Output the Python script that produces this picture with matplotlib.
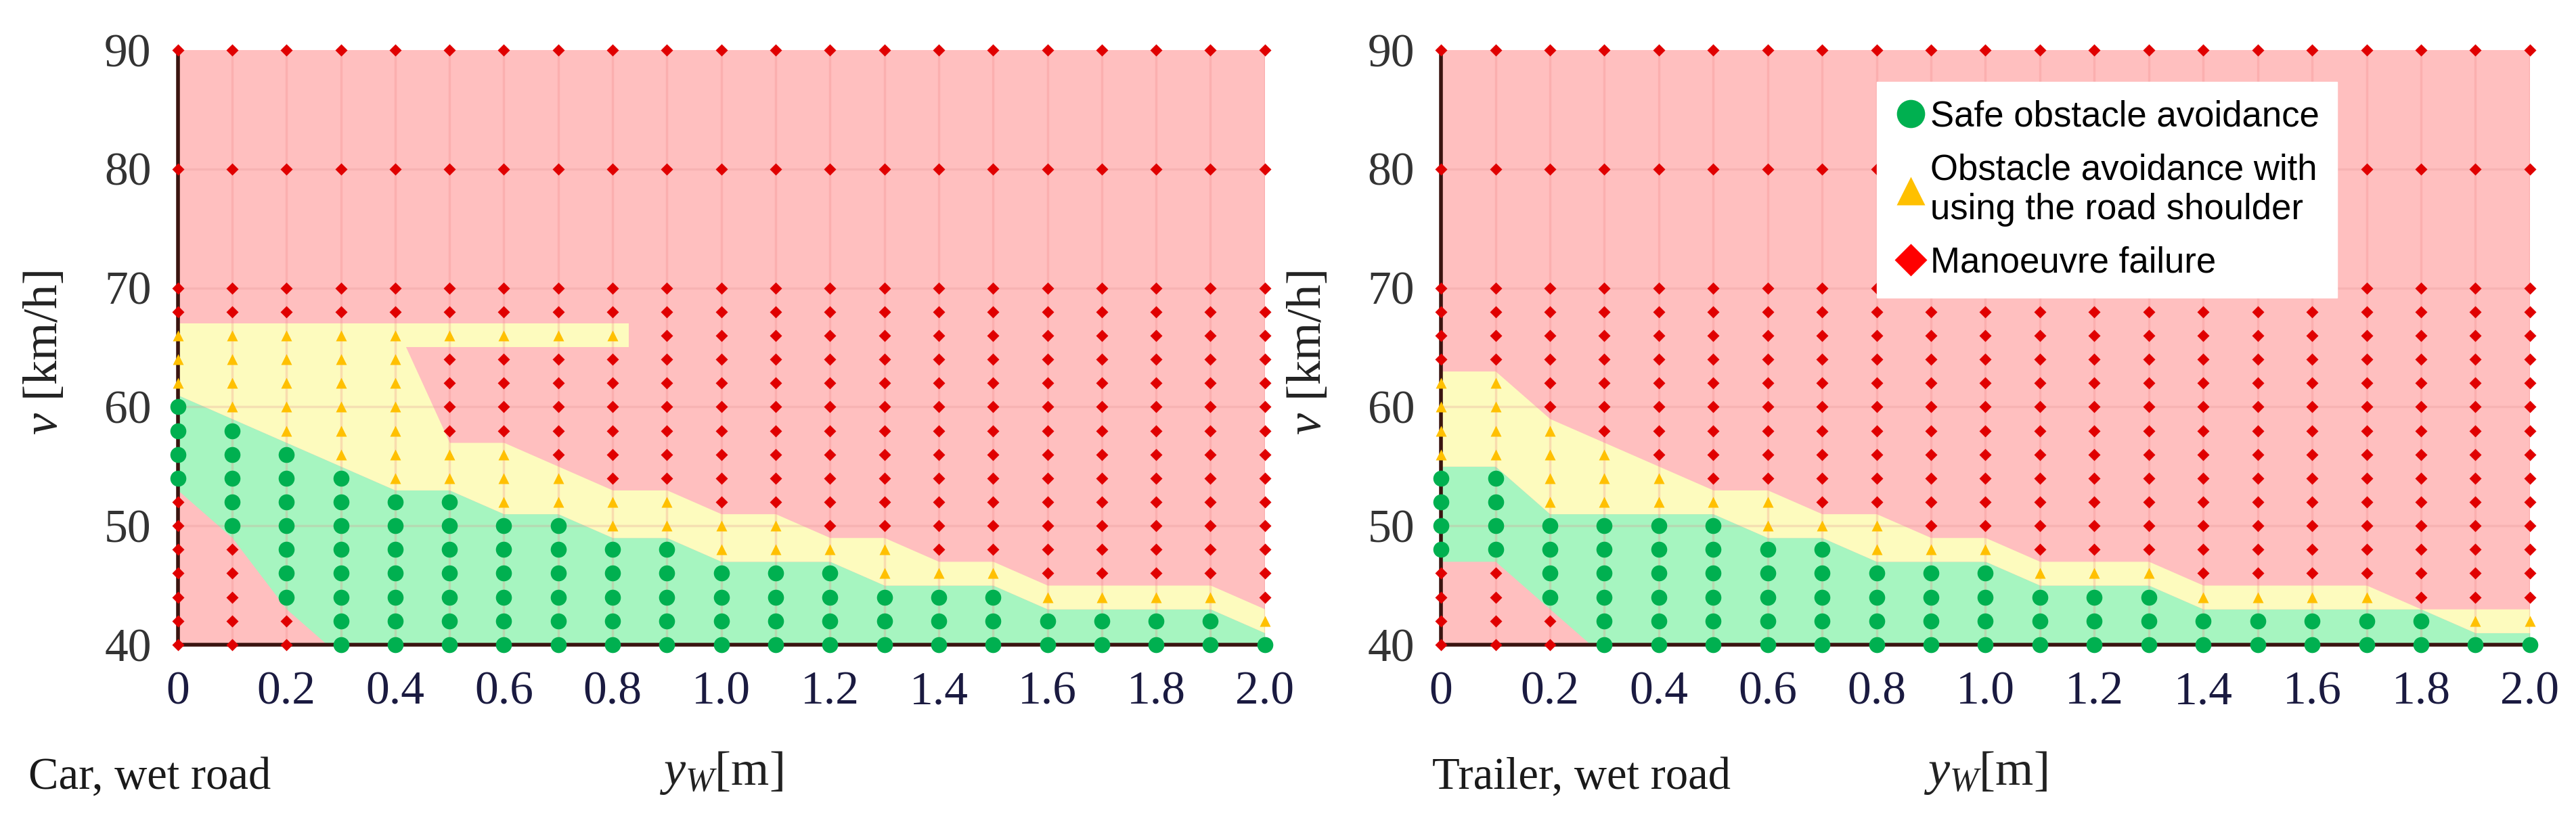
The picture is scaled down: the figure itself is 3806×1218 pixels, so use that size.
import matplotlib
matplotlib.use("Agg")
import matplotlib.pyplot as plt
import numpy as np
from matplotlib.lines import Line2D

plt.rcParams["mathtext.fontset"] = "custom"
plt.rcParams["mathtext.it"] = "Liberation Serif:italic"
plt.rcParams["mathtext.rm"] = "Liberation Serif"

# lateral offset columns [m] and speed rows [km/h]
Y_W = [round(0.1 * i, 1) for i in range(21)]
SPEEDS = list(range(40, 71, 2)) + [80, 90]

# per column: highest speed of the low-speed failure zone (None = none),
# highest safe speed, highest speed with road shoulder
CAR_RED_LOW = [52, 48, 42] + [None] * 18
CAR_GREEN_TOP = [60, 58, 56, 54, 52, 52, 50, 50, 48, 48, 46, 46, 46, 44, 44, 44, 42, 42, 42, 42, 40]
CAR_YELLOW_TOP = [66, 66, 66, 66, 66, 56, 56, 54, 52, 52, 50, 50, 48, 48, 46, 46, 44, 44, 44, 44, 42]
# car also has a yellow strip at 66 km/h up to y_W = 0.8 m
CAR_BAND_SPEED = 66
CAR_BAND_END = 0.8

TRL_RED_LOW = [46, 46, 42] + [None] * 18
TRL_GREEN_TOP = [54, 54, 50, 50, 50, 50, 48, 48, 46, 46, 46, 44, 44, 44, 42, 42, 42, 42, 42, 40, 40]
TRL_YELLOW_TOP = [62, 62, 58, 56, 54, 52, 52, 50, 50, 48, 48, 46, 46, 46, 44, 44, 44, 44, 42, 42, 42]

LABELS = ["Safe obstacle avoidance",
          "Obstacle avoidance with\nusing the road shoulder",
          "Manoeuvre failure"]

BG_RED, BG_YEL, BG_GRN = "#FFBFBF", "#FDFBBE", "#A6F5C0"
MK_GRN, MK_YEL, MK_RED = "#00B050", "#FFC000", "#E00000"
SERIF = ["Liberation Serif", "DejaVu Serif"]
NARROW = ["Liberation Sans Narrow", "Liberation Sans", "DejaVu Sans"]


def classify(i, v, red_low, g_top, y_top, band):
    if red_low[i] is not None and v <= red_low[i]:
        return "r"
    if v <= g_top[i]:
        return "g"
    if v <= y_top[i]:
        return "y"
    if band is not None and v == band[0] and Y_W[i] <= band[1]:
        return "y"
    return "r"


def draw_panel(ax, red_low, g_top, y_top, band=None):
    x = np.array(Y_W)
    ax.set_xlim(0, 2.0)
    ax.set_ylim(40, 90)
    ax.axhspan(40, 90, color=BG_RED, zorder=0)
    lo = np.array([39 if r is None else r + 1 for r in red_low], float)
    gt = np.array(g_top, float) + 1
    yt = np.array(y_top, float) + 1
    ax.fill_between(x, lo, gt, color=BG_GRN, lw=0, zorder=1)
    ax.fill_between(x, gt, yt, color=BG_YEL, lw=0, zorder=1)
    if band is not None:
        ax.fill_between([0, band[1] + 0.03], band[0] - 1, band[0] + 1,
                        color=BG_YEL, lw=0, zorder=1)

    for xv in Y_W:
        ax.axvline(xv, color="#F08080", alpha=0.25, lw=2.5, zorder=2)
    for yv in [50, 60, 70, 80]:
        ax.axhline(yv, color="#E09090", alpha=0.25, lw=2.5, zorder=2)

    pts = {"g": [], "y": [], "r": []}
    for i, xv in enumerate(Y_W):
        for v in SPEEDS:
            pts[classify(i, v, red_low, g_top, y_top, band)].append((xv, v))
    style = {"g": (MK_GRN, "o", 17), "y": (MK_YEL, "^", 12), "r": (MK_RED, "D", 9)}
    for k in ["g", "y", "r"]:
        if pts[k]:
            px, py = zip(*pts[k])
            c, m, s = style[k]
            ax.plot(px, py, ls="none", marker=m, ms=s, color=c, mec="none",
                    clip_on=False, zorder=4)

    for s in ["top", "right"]:
        ax.spines[s].set_visible(False)
    for s in ["left", "bottom"]:
        ax.spines[s].set_color("#3A1410")
        ax.spines[s].set_linewidth(4)
        ax.spines[s].set_zorder(3)
    ax.set_xticks([0, 0.2, 0.4, 0.6, 0.8, 1.0, 1.2, 1.4, 1.6, 1.8, 2.0])
    ax.set_xticklabels(["0", "0.2", "0.4", "0.6", "0.8", "1.0", "1.2", "1.4", "1.6", "1.8", "2.0"])
    ax.set_yticks([40, 50, 60, 70, 80, 90])
    ax.set_yticklabels(["40", "50", "60", "70", "80", "90"])
    ax.tick_params(length=0, labelsize=50, pad=28)
    for t in ax.get_xticklabels():
        t.set_family(SERIF)
        t.set_color("#1a1a40")
    for t in ax.get_yticklabels():
        t.set_family(SERIF)
        t.set_color("#333333")


fig = plt.figure(figsize=(38.06, 12.18), dpi=100)
ax1 = fig.add_axes([0.069, 0.2176, 0.422, 0.7217])
ax2 = fig.add_axes([0.5594, 0.2176, 0.4227, 0.7217])
draw_panel(ax1, CAR_RED_LOW, CAR_GREEN_TOP, CAR_YELLOW_TOP, (CAR_BAND_SPEED, CAR_BAND_END))
draw_panel(ax2, TRL_RED_LOW, TRL_GREEN_TOP, TRL_YELLOW_TOP)

for ax, xl, name, nx in [(ax1, 0.0175, "Car, wet road", 0.011),
                         (ax2, 0.508, "Trailer, wet road", 0.556)]:
    fig.text(xl, 0.572, r"$v$ [km/h]", rotation=90, ha="center", va="center",
             fontsize=52, color="#222222", family=SERIF)
    pos = ax.get_position()
    fig.text((pos.x0 + pos.x1) / 2, 0.062, r"$y_W$[m]", ha="center", va="center",
             fontsize=52, color="#222222", family=SERIF)
    fig.text(nx, 0.057, name, ha="left", va="center", fontsize=48,
             family=SERIF, color="#1a1a1a")

handles = [Line2D([], [], ls="none", marker="o", ms=30, color=MK_GRN, mec="none"),
           Line2D([], [], ls="none", marker="^", ms=30, color=MK_YEL, mec="none"),
           Line2D([], [], ls="none", marker="D", ms=24, color="#FF0000", mec="none")]
leg = ax2.legend(handles, LABELS, loc="upper left", bbox_to_anchor=(0.4, 0.946),
                 prop={"family": NARROW, "size": 38}, frameon=True, fancybox=False,
                 framealpha=1, edgecolor="white", handletextpad=0.1,
                 handlelength=0.9, labelspacing=0.55, borderpad=0.5, borderaxespad=0)
leg.set_zorder(10)

fig.savefig("out.png", dpi=100)
